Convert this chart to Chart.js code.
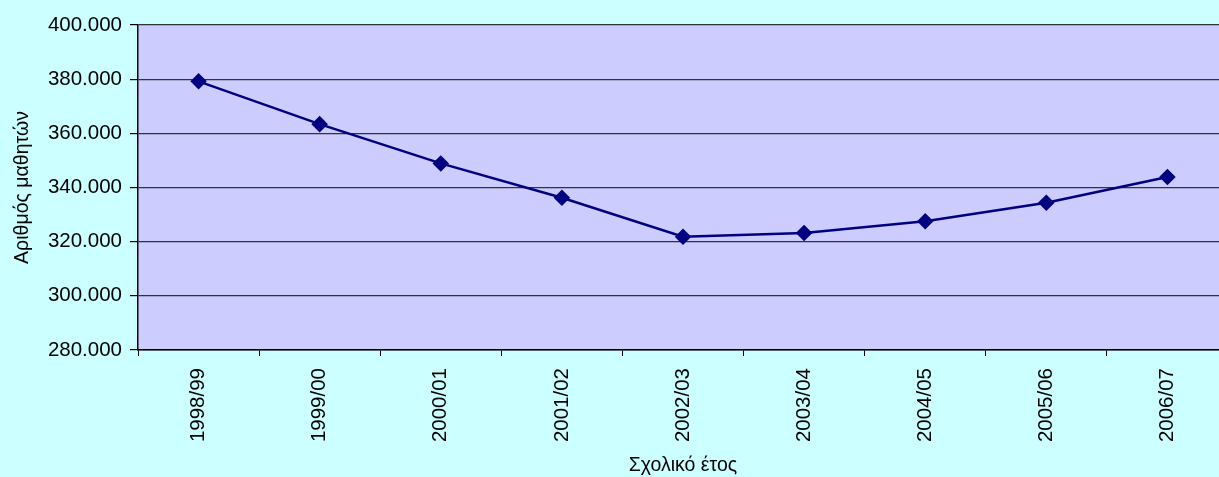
<!DOCTYPE html>
<html>
<head>
<meta charset="utf-8">
<script src="https://cdn.jsdelivr.net/npm/chart.js@4"></script>
<style>
  html, body { margin: 0; padding: 0; background: #ccffff; overflow: hidden; }
  #wrap { width: 1237px; height: 477px; }
</style>
</head>
<body>
<div id="wrap"><canvas id="lineChart"></canvas></div>
<script>
// data
const years = ["1998/99", "1999/00", "2000/01", "2001/02", "2002/03", "2003/04", "2004/05", "2005/06", "2006/07"];
const students = [379200, 363400, 348900, 336200, 321800, 323200, 327500, 334400, 343900];
const yMin = 280000;
const yMax = 400000;
const yStep = 20000;

const FONT = "'Liberation Sans', Arial, sans-serif";

// fill plot area
const plotBg = {
    id: "plotBg",
    beforeDraw(chart) {
        const a = chart.chartArea;
        const ctx = chart.ctx;
        ctx.save();
        ctx.fillStyle = "#ccccff";
        ctx.fillRect(a.left, a.top, a.right - a.left, a.bottom - a.top);
        ctx.restore();
    }
};

Chart.defaults.font.family = FONT;
Chart.defaults.color = "#000";

new Chart(document.getElementById("lineChart"), {
    type: "line",
    data: {
        labels: years,
        datasets: [{
            data: students,
            borderColor: "#000080",
            backgroundColor: "#000080",
            borderWidth: 2.5,
            pointStyle: "rectRot",
            pointRadius: 6.5,
            pointHoverRadius: 6.5,
            tension: 0
        }]
    },
    options: {
        responsive: true,
        maintainAspectRatio: false,
        animation: false,
        layout: { padding: { top: 25, right: 2, left: 0, bottom: 0 } },
        plugins: { legend: { display: false }, tooltip: { enabled: false } },
        scales: {
            x: {
                type: "category",
                offset: true,
                afterFit(scale) { scale.height = 127; },
                grid: {
                    offset: true,
                    drawOnChartArea: false,
                    drawTicks: true,
                    tickLength: 6,
                    tickColor: "#000"
                },
                border: { color: "#000", width: 1.5 },
                ticks: {
                    maxRotation: 90,
                    minRotation: 90,
                    padding: 12,
                    font: { size: 20.5 },
                    color: "#000"
                },
                title: {
                    display: true,
                    text: "Σχολικό έτος",
                    font: { size: 19.5 },
                    color: "#000",
                    padding: { top: 0, bottom: 0 }
                }
            },
            y: {
                min: yMin,
                max: yMax,
                afterFit(scale) { scale.width = 138; },
                grid: {
                    color: "#333",
                    lineWidth: 1.2,
                    tickLength: 8,
                    tickColor: "#000"
                },
                border: { color: "#000", width: 1.5 },
                ticks: {
                    stepSize: yStep,
                    padding: 8,
                    font: { size: 20.5 },
                    color: "#000",
                    callback: v => String(v).replace(/\B(?=(\d{3})+(?!\d))/g, ".")
                },
                title: {
                    display: true,
                    text: "Αριθμός μαθητών",
                    font: { size: 19.5 },
                    color: "#000",
                    padding: { top: 11, bottom: 0 }
                }
            }
        }
    },
    plugins: [plotBg]
});
</script>
</body>
</html>
